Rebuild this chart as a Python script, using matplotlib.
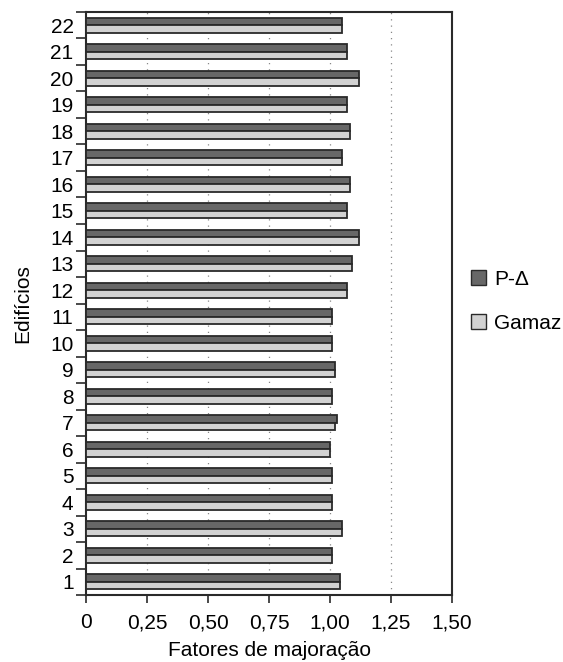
import matplotlib
matplotlib.use("Agg")
import matplotlib.pyplot as plt
import numpy as np
from matplotlib.patches import Patch

plt.rcParams['font.family'] = ['Liberation Sans', 'DejaVu Sans']

# data
edificios = [str(i) for i in range(1, 23)]
p_delta = [1.04, 1.01, 1.05, 1.01, 1.01, 1.00, 1.03, 1.01, 1.02, 1.01, 1.01,
           1.07, 1.09, 1.12, 1.07, 1.08, 1.05, 1.08, 1.07, 1.12, 1.07, 1.05]
gamaz = [1.04, 1.01, 1.05, 1.01, 1.01, 1.00, 1.02, 1.01, 1.02, 1.01, 1.01,
         1.07, 1.09, 1.12, 1.07, 1.08, 1.05, 1.08, 1.07, 1.12, 1.07, 1.05]
xticks = [0, 0.25, 0.5, 0.75, 1.0, 1.25, 1.5]
xticklabels = ['0', '0,25', '0,50', '0,75', '1,00', '1,25', '1,50']

dark = '#676767'
light = '#d2d2d2'
edge = '#2a2a2a'
fs = 15

fig = plt.figure(figsize=(5.63, 6.62), dpi=100)
ax = fig.add_axes([0.1528, 0.101, 0.650, 0.881])

y = np.arange(len(edificios))
h = 0.28
ax.barh(y + h / 2, p_delta, height=h, color=dark, edgecolor=edge, lw=1.3, zorder=3)
ax.barh(y - h / 2, gamaz, height=h, color=light, edgecolor=edge, lw=1.3, zorder=3)

ax.set_xlim(0, 1.5)
ax.set_ylim(-0.5, len(edificios) - 0.5)
ax.set_xticks(xticks)
ax.set_xticklabels(xticklabels, fontsize=fs)
ax.set_yticks(y)
ax.set_yticklabels(edificios, fontsize=fs)
ax.set_yticks(np.arange(-0.5, len(edificios), 1), minor=True)
ax.tick_params(axis='y', which='major', length=0, pad=9)
ax.tick_params(axis='y', which='minor', length=7, width=1.2, color=edge)
ax.tick_params(axis='x', length=6, width=1.2, color=edge, pad=7)

for v in [0.25, 0.5, 0.75, 1.0, 1.25]:
    ax.axvline(v, color='#888888', lw=0.9, ls=(0, (1, 4)), zorder=1)

for s in ax.spines.values():
    s.set_linewidth(1.5)
    s.set_color(edge)

ax.set_xlabel('Fatores de majoração', fontsize=fs, labelpad=6)
ax.set_ylabel('Edifícios', fontsize=fs, labelpad=13)

handles = [Patch(facecolor=dark, edgecolor=edge, label='P-\u0394'),
           Patch(facecolor=light, edgecolor=edge, label='Gamaz')]
fig.legend(handles=handles, loc='center left', bbox_to_anchor=(0.836, 0.545),
           frameon=False, fontsize=fs, handlelength=0.72, handleheight=0.72,
           handletextpad=0.4, labelspacing=1.2, borderpad=0, borderaxespad=0)

fig.savefig('out.png', dpi=100)
